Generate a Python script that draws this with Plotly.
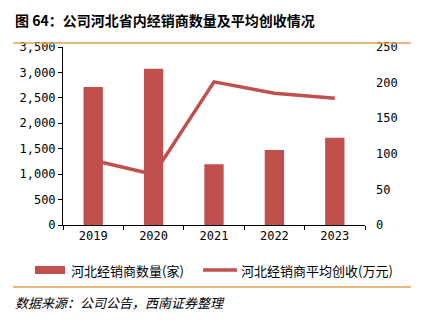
import plotly.graph_objects as go

years = ["2019", "2020", "2021", "2022", "2023"]
dealer_count = [2712, 3073, 1196, 1477, 1714]
avg_revenue = [91, 71, 201, 185, 178]
left_ticks = [0, 500, 1000, 1500, 2000, 2500, 3000, 3500]
right_ticks = [0, 50, 100, 150, 200, 250]
legend_labels = ["河北经销商数量(家)", "河北经销商平均创收(万元)"]

RED = "#C0504D"
ORANGE = "#E3A24E"
W, H = 421, 321
L, R, T, B = 63, 56, 47, 96
PW, PH = W - L - R, H - T - B

def px(x):
    return (x - L) / PW

def py(y):
    return (H - B - y) / PH

mono = "DejaVu Sans Mono"
cjk = "Noto Sans CJK SC"

fig = go.Figure()
# line on primary (bottom) axis, drawn beneath the bars
fig.add_trace(go.Scatter(
    x=years, y=avg_revenue, mode="lines", name=legend_labels[1],
    line=dict(color=RED, width=3.5), yaxis="y", showlegend=False))
# bars on overlaying axis so they're drawn on top
fig.add_trace(go.Bar(
    x=years, y=dealer_count, name=legend_labels[0], marker=dict(color=RED, line=dict(width=0)),
    width=0.32, yaxis="y2", showlegend=False))

fig.update_layout(
    width=W, height=H,
    margin=dict(l=L, r=R, t=T, b=B),
    paper_bgcolor="white", plot_bgcolor="white",
    font=dict(family=cjk, color="black", size=12),
    xaxis=dict(type="category", showline=True, linecolor="black", linewidth=1,
               ticks="outside", tickson="boundaries", ticklen=4, tickcolor="black",
               tickfont=dict(family=mono, size=12), showgrid=False, zeroline=False),
    yaxis=dict(side="right", range=[0, 250], tickvals=right_ticks, showline=False,
               ticks="", showgrid=False, zeroline=False,
               tickfont=dict(family=mono, size=12), ticklabelstandoff=10),
    yaxis2=dict(side="left", overlaying="y", range=[0, 3500], tickvals=left_ticks,
                tickformat=",", showline=True, linecolor="black", linewidth=1,
                ticks="outside", ticklen=4, tickcolor="black", showgrid=False, zeroline=False,
                tickfont=dict(family=mono, size=12)),
    showlegend=False,
)

# manual legend
fig.add_shape(type="rect", xref="paper", yref="paper", x0=px(35), x1=px(65), y0=py(274), y1=py(266),
              fillcolor=RED, line=dict(width=0))
fig.add_annotation(text=legend_labels[0], xref="paper", yref="paper", x=px(69), y=py(270),
                   xanchor="left", yanchor="middle", showarrow=False,
                   font=dict(family=cjk, size=13, color="black"))
fig.add_shape(type="line", xref="paper", yref="paper", x0=px(203), x1=px(237), y0=py(270), y1=py(270),
              line=dict(color=RED, width=3.5))
fig.add_annotation(text=legend_labels[1], xref="paper", yref="paper", x=px(239), y=py(270),
                   xanchor="left", yanchor="middle", showarrow=False,
                   font=dict(family=cjk, size=13, color="black"))

fig.add_annotation(text="<b>图 64：公司河北省内经销商数量及平均创收情况</b>", xref="paper", yref="paper",
                   x=px(13), y=py(20), xanchor="left", yanchor="middle", showarrow=False,
                   font=dict(family=cjk, size=14, color="black"))
fig.add_annotation(text="<i>数据来源：公司公告，西南证券整理</i>", xref="paper", yref="paper",
                   x=px(13), y=py(302), xanchor="left", yanchor="middle", showarrow=False,
                   font=dict(family=cjk, size=13, color="black"))
fig.add_shape(type="line", xref="paper", yref="paper", x0=px(13), x1=px(411), y0=py(43), y1=py(43),
              line=dict(color=ORANGE, width=1.5))
fig.add_shape(type="line", xref="paper", yref="paper", x0=px(13), x1=px(411), y0=py(287), y1=py(287),
              line=dict(color=ORANGE, width=1.5))

fig.write_html("out.html")
